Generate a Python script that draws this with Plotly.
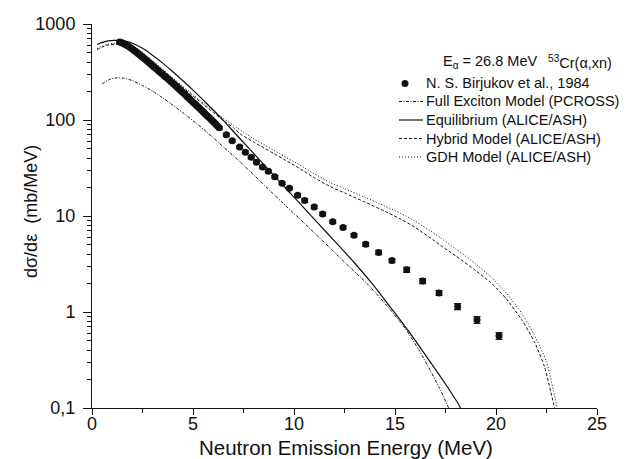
import plotly.graph_objects as go

# ---------------- data ----------------
exp_E = [1.37, 1.45, 1.53, 1.61, 1.69, 1.77, 1.85, 1.93, 2.01, 2.10, 2.19, 2.28, 2.37, 2.46,
         2.56, 2.66, 2.76, 2.86, 2.96, 3.07, 3.18, 3.29,
         3.40, 3.50, 3.60, 3.70, 3.80, 3.90, 4.00, 4.10, 4.20, 4.30, 4.40, 4.50, 4.60, 4.70,
         4.80, 4.90, 5.00, 5.10, 5.20, 5.30, 5.40, 5.50, 5.60, 5.70, 5.80, 5.90, 6.00, 6.10,
         6.20, 6.30,
         6.65, 6.94, 7.31, 7.59, 7.88, 8.14, 8.44, 8.73, 9.05, 9.41, 9.77, 10.18, 10.53,
         11.00, 11.42, 11.92, 12.43, 12.97, 13.55, 14.19, 14.85, 15.58, 16.37, 17.18, 18.10,
         19.06, 20.15]
exp_sigma = [649, 640, 630, 618, 605, 592, 577, 561, 546, 528, 511, 493, 476, 459,
             442, 424, 406, 390, 374, 357, 341, 326,
             311, 299, 286, 275, 264, 252, 242, 231, 221, 211, 202, 193, 185, 176,
             168, 161, 153, 147, 140, 134, 128, 122, 116, 111, 106, 101, 96.4, 91.8,
             87.1, 82.8,
             70.0, 60.8, 52.2, 46.2, 40.9, 36.3, 32.4, 29.2, 25.6, 21.9, 19.5, 16.4, 14.5,
             12.4, 10.5, 8.71, 7.59, 6.31, 5.07, 4.17, 3.43, 2.75, 2.10, 1.58, 1.14,
             0.828, 0.565]
# relative uncertainty (%) of each measured point
exp_err_pct = [3] * 63 + [4] * 7 + [5] * 3 + [6] * 3 + [7, 8, 8]

pcross_E = [0.5, 0.8, 1.0, 1.24, 1.6, 2.0, 2.5, 3.0, 3.5, 3.88, 4.5, 5.0, 5.7, 6.5, 7.35,
            8.0, 9.0, 9.49, 10.56, 11.5, 12.5, 13.62, 14.5, 15.5, 16.2, 16.75, 17.2, 17.7]
pcross_sigma = [238, 260, 270, 275, 272, 257, 229, 200, 170, 149, 119, 98.4, 74.5, 52.5, 36.3,
                26.9, 16.8, 13.4, 8.22, 5.31, 3.31, 1.97, 1.23, 0.676, 0.398, 0.245, 0.162, 0.0955]

equil_E = [0.25, 0.5, 0.8, 1.1, 1.32, 1.7, 2.0, 2.5, 3.0, 3.5, 4.0, 4.5, 5.0, 5.5, 6.0, 6.5,
           7.0, 7.5, 8.0, 8.5, 9.0, 9.5, 10.0, 10.5, 11.22, 12.0, 13.0, 13.87, 14.5, 15.0,
           15.43, 16.0, 16.75, 17.5, 18.2, 18.3]
equil_sigma = [612, 643, 667, 676, 676, 661, 631, 558, 473, 391, 318, 256, 205, 162, 127, 98.9,
               75.9, 58.3, 44.9, 34.5, 26.5, 20.4, 15.7, 12.1, 8.28, 5.50, 3.24, 1.97, 1.33, 0.973,
               0.740, 0.506, 0.301, 0.178, 0.104, 0.092]

hybrid_E = [0.25, 0.5, 0.8, 1.1, 1.4, 1.8, 2.2, 2.6, 3.0, 3.5, 4.0, 4.5, 5.0, 5.5, 6.0, 6.5,
            7.0, 7.35, 8.0, 8.5, 9.0, 9.5, 10.0, 10.5, 11.0, 11.8, 12.5, 13.5, 14.5, 15.3,
            16.0, 17.0, 17.25, 18.0, 19.0, 19.72, 20.5, 21.3, 21.9, 22.4, 22.9, 22.95]
hybrid_sigma = [542, 575, 603, 614, 612, 596, 548, 478, 405, 330, 268, 218, 178, 146, 120, 99,
                83.2, 71.4, 58.9, 51.3, 44.7, 38.9, 33.9, 29.2, 25.1, 20.2, 17.4, 14.0, 11.2, 9.23,
                7.59, 5.43, 4.95, 3.85, 2.69, 2.04, 1.38, 0.813, 0.490, 0.269, 0.100, 0.090]

gdh_E = [0.25, 0.5, 0.8, 1.1, 1.4, 1.8, 2.2, 2.6, 3.0, 3.5, 4.0, 4.5, 5.0, 5.5, 6.0, 6.5,
         7.0, 7.5, 8.0, 8.5, 9.0, 9.5, 10.0, 10.5, 11.0, 11.8, 12.5, 13.5, 14.5, 15.3,
         16.0, 17.0, 17.25, 18.0, 19.0, 19.72, 20.5, 21.3, 21.9, 22.5, 23.03, 23.08]
gdh_sigma = [556, 589, 617, 628, 627, 610, 560, 490, 415, 338, 275, 224, 184, 151, 125, 104,
             88.0, 75.0, 63.8, 55.6, 48.4, 42.2, 36.7, 32.0, 27.5, 22.3, 19.3, 15.7, 12.7, 10.6,
             8.81, 6.46, 5.93, 4.57, 3.16, 2.34, 1.58, 0.955, 0.575, 0.302, 0.100, 0.090]

y_tickvals = [0.1, 1, 10, 100, 1000]
y_ticktext = ["0,1", "1", "10", "100", "1000"]
x_tickvals = [0, 5, 10, 15, 20, 25]

legend_labels = ["N. S. Birjukov et al., 1984",
                 "Full Exciton Model (PCROSS)",
                 "Equilibrium (ALICE/ASH)",
                 "Hybrid Model (ALICE/ASH)",
                 "GDH Model (ALICE/ASH)"]

# ---------------- styling ----------------
# the page body has an 8px margin, so the figure is drawn 8px in from the window corner
OFF = 8
W, H = 630 - OFF, 459 - OFF
ML, MT = 92 - OFF, 24 - OFF
MR, MB = 630 - 597, 459 - 400 - OFF
PW, PH = W - ML - MR, H - MT - MB
FONT = "Liberation Sans, Arial, Helvetica, sans-serif"
INK = "#111111"


def xp(px):  # window pixel -> paper fraction
    return (px - OFF - ML) / PW


def yp(py):
    return (MT + PH - (py - OFF)) / PH


line_styles = [
    dict(color=INK, width=1, dash="3px,1.5px,1px,1.5px"),   # PCROSS
    dict(color=INK, width=1.2, dash="solid"),               # Equilibrium
    dict(color=INK, width=1, dash="3px,2px"),                # Hybrid
    dict(color=INK, width=1, dash="1px,2px"),                # GDH
]

fig = go.Figure()
curves = [(pcross_E, pcross_sigma), (equil_E, equil_sigma),
          (hybrid_E, hybrid_sigma), (gdh_E, gdh_sigma)]
for (cx, cy), st, name in zip(curves, line_styles, legend_labels[1:]):
    fig.add_trace(go.Scatter(x=cx, y=cy, mode="lines", name=name,
                             line=dict(shape="spline", smoothing=0.6, **st),
                             showlegend=False))

fig.add_trace(go.Scatter(
    x=exp_E, y=exp_sigma, mode="markers", name=legend_labels[0],
    marker=dict(symbol="circle", size=7, color=INK, line=dict(width=0)),
    error_y=dict(type="data", array=[s * p / 100 for s, p in zip(exp_sigma, exp_err_pct)],
                 color=INK, thickness=1.2, width=3.5),
    showlegend=False))

minor_y = [k * 10 ** e for e in range(-1, 3) for k in range(2, 10)]

fig.update_xaxes(range=[0, 25], tickvals=x_tickvals, ticks="outside", ticklen=6, tickwidth=1,
                 tickcolor=INK, showline=True, linecolor=INK, linewidth=1, showgrid=False,
                 zeroline=False, automargin=False, ticklabelstandoff=-7,
                 tickfont=dict(family=FONT, size=18, color=INK),
                 minor=dict(dtick=2.5, tick0=0, ticks="outside", ticklen=4, tickcolor=INK,
                            tickwidth=1, showgrid=False))
fig.update_yaxes(type="log", range=[-1, 3], tickvals=y_tickvals, ticktext=y_ticktext,
                 ticks="outside", ticklen=8, tickwidth=1, tickcolor=INK, showline=True,
                 linecolor=INK, linewidth=1, showgrid=False, zeroline=False,
                 automargin=False, ticklabelstandoff=4,
                 tickfont=dict(family=FONT, size=18, color=INK),
                 minor=dict(tickmode="array", tickvals=minor_y, ticks="outside", ticklen=4,
                            tickcolor=INK, tickwidth=1, showgrid=False))

annotations = [
    dict(text="Neutron Emission Energy (MeV)", x=xp(346), y=yp(447), xref="paper",
         yref="paper", showarrow=False, font=dict(family=FONT, size=20.5, color=INK),
         xanchor="center", yanchor="middle"),
    dict(text="dσ/dε\u00a0 (mb/MeV)", x=xp(31), y=yp(212), xref="paper", yref="paper",
         showarrow=False, textangle=-90, font=dict(family=FONT, size=18, color=INK),
         xanchor="center", yanchor="middle"),
    dict(text="E<sub>α</sub> = 26.8 MeV", x=xp(441), y=yp(62), xref="paper", yref="paper",
         showarrow=False, font=dict(family=FONT, size=14.5, color=INK), xanchor="left",
         yanchor="middle"),
    dict(text="<sup>53</sup>Cr(α,xn)", x=xp(546), y=yp(62), xref="paper", yref="paper",
         showarrow=False, font=dict(family=FONT, size=14.5, color=INK), xanchor="left",
         yanchor="middle"),
]
row_y = [83.5, 101.5, 120, 138.5, 157]
for lbl, ry in zip(legend_labels, row_y):
    annotations.append(dict(text=lbl, x=xp(424), y=yp(ry), xref="paper", yref="paper",
                            showarrow=False, font=dict(family=FONT, size=14.5, color=INK),
                            xanchor="left", yanchor="middle"))

shapes = [dict(type="circle", xref="paper", yref="paper", x0=xp(401.5), x1=xp(408.5),
               y0=yp(87), y1=yp(80), fillcolor=INK, line=dict(width=0))]
for st, ry in zip(line_styles, row_y[1:]):
    shapes.append(dict(type="line", xref="paper", yref="paper", x0=xp(399), x1=xp(423),
                       y0=yp(ry), y1=yp(ry), line=st))

fig.update_layout(width=W, height=H, margin=dict(l=ML, r=MR, t=MT, b=MB, pad=0),
                  paper_bgcolor="white", plot_bgcolor="white", showlegend=False,
                  annotations=annotations, shapes=shapes,
                  font=dict(family=FONT, color=INK))

fig.write_html("out.html")
